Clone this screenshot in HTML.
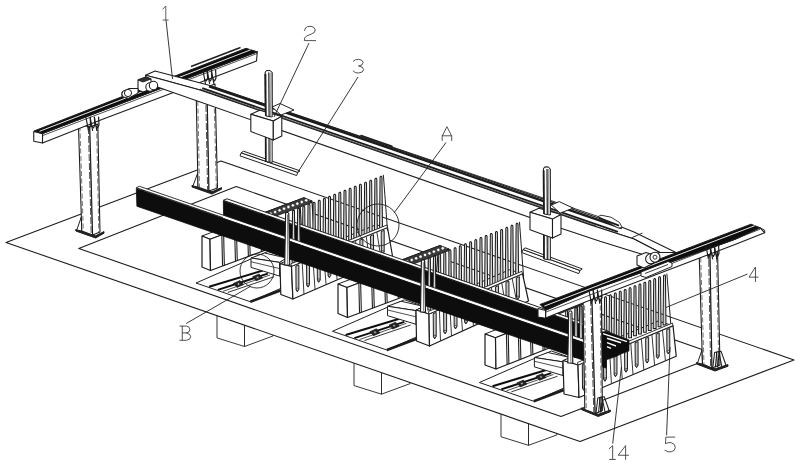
<!DOCTYPE html>
<html><head><meta charset="utf-8"><title>Figure</title>
<style>
html,body{margin:0;padding:0;background:#fff;font-family:"Liberation Sans",sans-serif;}
svg{display:block}
</style></head>
<body>
<svg width="800" height="465" viewBox="0 0 800 465">
<defs><filter id="soft" x="0" y="0" width="100%" height="100%" filterUnits="userSpaceOnUse"><feGaussianBlur stdDeviation="0.45"/></filter></defs>
<rect width="800" height="465" fill="#fff"/>
<g filter="url(#soft)">
<polygon points="217,313.93 217,337.93 244.5,346.5 244.5,323.5" fill="#fff" stroke="#1c1c1c" stroke-width="0.88" stroke-linejoin="round"/>
<polygon points="244.5,323.5 244.5,346.5 273,336 273,333.42" fill="#fff" stroke="#1c1c1c" stroke-width="0.88" stroke-linejoin="round"/>
<polygon points="354,361.6 354,385.6 381.5,394.17 381.5,371.17" fill="#fff" stroke="#1c1c1c" stroke-width="0.88" stroke-linejoin="round"/>
<polygon points="381.5,371.17 381.5,394.17 410,383.67 410,381.09" fill="#fff" stroke="#1c1c1c" stroke-width="0.88" stroke-linejoin="round"/>
<polygon points="501,412.76 501,436.76 528.5,445.33 528.5,422.33" fill="#fff" stroke="#1c1c1c" stroke-width="0.88" stroke-linejoin="round"/>
<polygon points="528.5,422.33 528.5,445.33 557,434.83 557,432.25" fill="#fff" stroke="#1c1c1c" stroke-width="0.88" stroke-linejoin="round"/>
<polygon points="6,242.5 221,161 794,360 580,441.5" fill="#fff" stroke="#1c1c1c" stroke-width="1.08" stroke-linejoin="round"/>
<polygon points="78.75,248.4 236.25,186.6 718.5,355.25 561,416.5" fill="#fff" stroke="#1c1c1c" stroke-width="1.08" stroke-linejoin="round"/>
<polygon points="196,283 268,251.5 322,270.2 250.35,301.75" fill="#fff" stroke="#1c1c1c" stroke-width="0.98" stroke-linejoin="round"/>
<line x1="227.85" y1="292.4" x2="274.1" y2="276.75" stroke="#1c1c1c" stroke-width="0.88" />
<line x1="223" y1="291.3" x2="270" y2="275" stroke="#1c1c1c" stroke-width="0.77" />
<line x1="250.35" y1="301.75" x2="280.35" y2="290.5" stroke="#1c1c1c" stroke-width="2.66" />
<line x1="209.1" y1="286.75" x2="262.85" y2="270.5" stroke="#111" stroke-width="2.03" />
<line x1="217.85" y1="289.9" x2="267.85" y2="273.6" stroke="#111" stroke-width="2.03" />
<polygon points="233.5,283.4 240,280.6 243.5,284.6 237,287.4" fill="#222" stroke="#1c1c1c" stroke-width="0.77" stroke-linejoin="round"/>
<circle cx="238.5" cy="284" r="1.2" fill="#bbb" stroke="#1c1c1c" stroke-width="0.56"/>
<polygon points="252.6,276.8 259.1,274 262.6,278 256.1,280.8" fill="#222" stroke="#1c1c1c" stroke-width="0.77" stroke-linejoin="round"/>
<circle cx="257.6" cy="277.4" r="1.2" fill="#bbb" stroke="#1c1c1c" stroke-width="0.56"/>
<polygon points="251,258 264.6,253 286.6,258 279.7,262.4" fill="#fff" stroke="#1c1c1c" stroke-width="0.98" stroke-linejoin="round"/>
<polygon points="251,258 251,267.4 279.7,276.1 279.7,262.4" fill="#fff" stroke="#1c1c1c" stroke-width="0.98" stroke-linejoin="round"/>
<line x1="251" y1="261.75" x2="279.7" y2="268.6" stroke="#1c1c1c" stroke-width="0.77" />
<polygon points="279.7,262.4 286.6,258 286.6,272 279.7,276.1" fill="#fff" stroke="#1c1c1c" stroke-width="0.98" stroke-linejoin="round"/>
<polygon points="332.5,331.25 404.5,299.75 458.5,318.45 386.85,350" fill="#fff" stroke="#1c1c1c" stroke-width="0.98" stroke-linejoin="round"/>
<line x1="364.35" y1="340.65" x2="410.6" y2="325" stroke="#1c1c1c" stroke-width="0.88" />
<line x1="359.5" y1="339.55" x2="406.5" y2="323.25" stroke="#1c1c1c" stroke-width="0.77" />
<line x1="386.85" y1="350" x2="416.85" y2="338.75" stroke="#1c1c1c" stroke-width="2.66" />
<line x1="345.6" y1="335" x2="399.35" y2="318.75" stroke="#111" stroke-width="2.03" />
<line x1="354.35" y1="338.15" x2="404.35" y2="321.85" stroke="#111" stroke-width="2.03" />
<polygon points="370,331.65 376.5,328.85 380,332.85 373.5,335.65" fill="#222" stroke="#1c1c1c" stroke-width="0.77" stroke-linejoin="round"/>
<circle cx="375" cy="332.25" r="1.2" fill="#bbb" stroke="#1c1c1c" stroke-width="0.56"/>
<polygon points="389.1,325.05 395.6,322.25 399.1,326.25 392.6,329.05" fill="#222" stroke="#1c1c1c" stroke-width="0.77" stroke-linejoin="round"/>
<circle cx="394.1" cy="325.65" r="1.2" fill="#bbb" stroke="#1c1c1c" stroke-width="0.56"/>
<polygon points="387.5,306.25 401.1,301.25 423.1,306.25 416.2,310.65" fill="#fff" stroke="#1c1c1c" stroke-width="0.98" stroke-linejoin="round"/>
<polygon points="387.5,306.25 387.5,315.65 416.2,324.35 416.2,310.65" fill="#fff" stroke="#1c1c1c" stroke-width="0.98" stroke-linejoin="round"/>
<line x1="387.5" y1="310" x2="416.2" y2="316.85" stroke="#1c1c1c" stroke-width="0.77" />
<polygon points="416.2,310.65 423.1,306.25 423.1,320.25 416.2,324.35" fill="#fff" stroke="#1c1c1c" stroke-width="0.98" stroke-linejoin="round"/>
<polygon points="479.4,382.5 551.4,351 605.4,369.7 533.75,401.25" fill="#fff" stroke="#1c1c1c" stroke-width="0.98" stroke-linejoin="round"/>
<line x1="511.25" y1="391.9" x2="557.5" y2="376.25" stroke="#1c1c1c" stroke-width="0.88" />
<line x1="506.4" y1="390.8" x2="553.4" y2="374.5" stroke="#1c1c1c" stroke-width="0.77" />
<line x1="533.75" y1="401.25" x2="563.75" y2="390" stroke="#1c1c1c" stroke-width="2.66" />
<line x1="492.5" y1="386.25" x2="546.25" y2="370" stroke="#111" stroke-width="2.03" />
<line x1="501.25" y1="389.4" x2="551.25" y2="373.1" stroke="#111" stroke-width="2.03" />
<polygon points="516.9,382.9 523.4,380.1 526.9,384.1 520.4,386.9" fill="#222" stroke="#1c1c1c" stroke-width="0.77" stroke-linejoin="round"/>
<circle cx="521.9" cy="383.5" r="1.2" fill="#bbb" stroke="#1c1c1c" stroke-width="0.56"/>
<polygon points="536,376.3 542.5,373.5 546,377.5 539.5,380.3" fill="#222" stroke="#1c1c1c" stroke-width="0.77" stroke-linejoin="round"/>
<circle cx="541" cy="376.9" r="1.2" fill="#bbb" stroke="#1c1c1c" stroke-width="0.56"/>
<polygon points="534.4,357.5 548,352.5 570,357.5 563.1,361.9" fill="#fff" stroke="#1c1c1c" stroke-width="0.98" stroke-linejoin="round"/>
<polygon points="534.4,357.5 534.4,366.9 563.1,375.6 563.1,361.9" fill="#fff" stroke="#1c1c1c" stroke-width="0.98" stroke-linejoin="round"/>
<line x1="534.4" y1="361.25" x2="563.1" y2="368.1" stroke="#1c1c1c" stroke-width="0.77" />
<polygon points="563.1,361.9 570,357.5 570,371.5 563.1,375.6" fill="#fff" stroke="#1c1c1c" stroke-width="0.98" stroke-linejoin="round"/>
<polygon points="192,187 212,194 221.5,189.2 221.5,187.6 212,191.8 192,185.4" fill="#222" stroke="#1c1c1c" stroke-width="0.98" stroke-linejoin="round"/>
<polygon points="193,186 197.7,173 198,187" fill="#fff" stroke="#1c1c1c" stroke-width="0.98" stroke-linejoin="round"/>
<polygon points="196,84 198,187 209,191 207,87" fill="#fff" stroke="#1c1c1c" stroke-width="1.08" stroke-linejoin="round"/>
<polygon points="207,87 209,191 217.5,188 215,84" fill="#fff" stroke="#1c1c1c" stroke-width="1.08" stroke-linejoin="round"/>
<line x1="197.5" y1="86" x2="199.5" y2="187" stroke="#444" stroke-width="0.72" stroke-dasharray="5 2.5"/>
<line x1="205.6" y1="87" x2="207.6" y2="190" stroke="#333" stroke-width="0.88" stroke-dasharray="7 2"/>
<line x1="213.8" y1="86" x2="216.3" y2="188" stroke="#444" stroke-width="0.72" stroke-dasharray="5 2.5"/>
<polygon points="696.5,364 715,371 728,366.2 728,364.6 715,368.8 696.5,362.4" fill="#222" stroke="#1c1c1c" stroke-width="0.98" stroke-linejoin="round"/>
<polygon points="697.5,363 701.98,350 702.5,364" fill="#fff" stroke="#1c1c1c" stroke-width="0.98" stroke-linejoin="round"/>
<polygon points="699,248 702.5,364 712,368 710,251" fill="#fff" stroke="#1c1c1c" stroke-width="1.08" stroke-linejoin="round"/>
<polygon points="710,251 712,368 720,365 717.5,248" fill="#fff" stroke="#1c1c1c" stroke-width="1.08" stroke-linejoin="round"/>
<line x1="700.5" y1="250" x2="704" y2="364" stroke="#444" stroke-width="0.72" stroke-dasharray="5 2.5"/>
<line x1="708.6" y1="251" x2="710.6" y2="367" stroke="#333" stroke-width="0.88" stroke-dasharray="7 2"/>
<line x1="716.3" y1="250" x2="718.8" y2="365" stroke="#444" stroke-width="0.72" stroke-dasharray="5 2.5"/>
<polyline points="712.8,367.6 714.6,352.5 716.6,352 717.5,366.8" fill="none" stroke="#1c1c1c" stroke-width="1.03" stroke-linejoin="round" stroke-linecap="round"/>
<polyline points="715.4,366.9 716.8,352.1 718.8,351.6 721.7,365.9" fill="none" stroke="#1c1c1c" stroke-width="1.03" stroke-linejoin="round" stroke-linecap="round"/>
<polyline points="718,366.2 719,351.7 721,351.2 725.9,365" fill="none" stroke="#1c1c1c" stroke-width="1.03" stroke-linejoin="round" stroke-linecap="round"/>
<polygon points="241.2,152.8 297.8,172.4 296.6,175.5 240,155.9" fill="#fff" stroke="#1c1c1c" stroke-width="0.98" stroke-linejoin="round"/>
<polygon points="241.2,152.8 297.8,172.4 300,170.8 243.4,151.2" fill="#fff" stroke="#1c1c1c" stroke-width="0.98" stroke-linejoin="round"/>
<polygon points="523,249.5 580,270.5 578.8,273.6 521.8,252.6" fill="#fff" stroke="#1c1c1c" stroke-width="0.98" stroke-linejoin="round"/>
<polygon points="523,249.5 580,270.5 582.2,268.9 525.2,247.9" fill="#fff" stroke="#1c1c1c" stroke-width="0.98" stroke-linejoin="round"/>
<polygon points="202,236 304,197.7 312,201 210,239.3" fill="#fff" stroke="#1c1c1c" stroke-width="0.98" stroke-linejoin="round"/>
<polygon points="202,236 202,267 210.5,270.5 210,239.3" fill="#fff" stroke="#1c1c1c" stroke-width="1.19" stroke-linejoin="round"/>
<polygon points="210,239.3 210.5,270.5 314,232 312,201" fill="#fff" stroke="#1c1c1c" stroke-width="1.19" stroke-linejoin="round"/>
<line x1="221.85" y1="234.81" x2="222.54" y2="265.99" stroke="#1c1c1c" stroke-width="1.08" />
<line x1="223.65" y1="234.21" x2="224.34" y2="265.39" stroke="#1c1c1c" stroke-width="1.08" />
<line x1="234.6" y1="230.03" x2="235.47" y2="261.18" stroke="#1c1c1c" stroke-width="1.08" />
<line x1="236.4" y1="229.43" x2="237.28" y2="260.57" stroke="#1c1c1c" stroke-width="1.08" />
<line x1="247.35" y1="225.24" x2="248.41" y2="256.36" stroke="#1c1c1c" stroke-width="1.08" />
<line x1="249.15" y1="224.64" x2="250.21" y2="255.76" stroke="#1c1c1c" stroke-width="1.08" />
<line x1="260.1" y1="220.45" x2="261.35" y2="251.55" stroke="#1c1c1c" stroke-width="1.08" />
<line x1="261.9" y1="219.85" x2="263.15" y2="250.95" stroke="#1c1c1c" stroke-width="1.08" />
<line x1="272.85" y1="215.66" x2="274.29" y2="246.74" stroke="#1c1c1c" stroke-width="1.08" />
<line x1="274.65" y1="215.06" x2="276.09" y2="246.14" stroke="#1c1c1c" stroke-width="1.08" />
<line x1="285.6" y1="210.88" x2="287.23" y2="241.93" stroke="#1c1c1c" stroke-width="1.08" />
<line x1="287.4" y1="210.27" x2="289.02" y2="241.32" stroke="#1c1c1c" stroke-width="1.08" />
<line x1="298.35" y1="206.09" x2="300.16" y2="237.11" stroke="#1c1c1c" stroke-width="1.08" />
<line x1="300.15" y1="205.49" x2="301.96" y2="236.51" stroke="#1c1c1c" stroke-width="1.08" />
<polygon points="253,216.85 304,197.7 312,202.5 265.08,220.12" fill="#3a3a3a" stroke="#1c1c1c" stroke-width="0.88" stroke-linejoin="round"/>
<circle cx="261.86" cy="216.99" r="1.65" fill="#fff" stroke="#222" stroke-width="0.56"/>
<circle cx="266.29" cy="215.33" r="1.65" fill="#fff" stroke="#222" stroke-width="0.56"/>
<circle cx="270.72" cy="213.66" r="1.65" fill="#fff" stroke="#222" stroke-width="0.56"/>
<circle cx="275.16" cy="212" r="1.65" fill="#fff" stroke="#222" stroke-width="0.56"/>
<circle cx="279.59" cy="210.33" r="1.65" fill="#fff" stroke="#222" stroke-width="0.56"/>
<circle cx="284.02" cy="208.67" r="1.65" fill="#fff" stroke="#222" stroke-width="0.56"/>
<circle cx="288.45" cy="207" r="1.65" fill="#fff" stroke="#222" stroke-width="0.56"/>
<circle cx="292.89" cy="205.34" r="1.65" fill="#fff" stroke="#222" stroke-width="0.56"/>
<circle cx="297.32" cy="203.68" r="1.65" fill="#fff" stroke="#222" stroke-width="0.56"/>
<circle cx="301.75" cy="202.01" r="1.65" fill="#fff" stroke="#222" stroke-width="0.56"/>
<circle cx="306.18" cy="200.35" r="1.65" fill="#fff" stroke="#222" stroke-width="0.56"/>
<polygon points="338,284 440,245.5 449,249 347,287.5" fill="#fff" stroke="#1c1c1c" stroke-width="0.98" stroke-linejoin="round"/>
<polygon points="338,284 338,313.5 347.5,317.5 347,287.5" fill="#fff" stroke="#1c1c1c" stroke-width="1.19" stroke-linejoin="round"/>
<polygon points="347,287.5 347.5,317.5 451,279 449,249" fill="#fff" stroke="#1c1c1c" stroke-width="1.19" stroke-linejoin="round"/>
<line x1="358.85" y1="282.99" x2="359.54" y2="312.99" stroke="#1c1c1c" stroke-width="1.08" />
<line x1="360.65" y1="282.39" x2="361.34" y2="312.39" stroke="#1c1c1c" stroke-width="1.08" />
<line x1="371.6" y1="278.18" x2="372.48" y2="308.18" stroke="#1c1c1c" stroke-width="1.08" />
<line x1="373.4" y1="277.57" x2="374.27" y2="307.57" stroke="#1c1c1c" stroke-width="1.08" />
<line x1="384.35" y1="273.36" x2="385.41" y2="303.36" stroke="#1c1c1c" stroke-width="1.08" />
<line x1="386.15" y1="272.76" x2="387.21" y2="302.76" stroke="#1c1c1c" stroke-width="1.08" />
<line x1="397.1" y1="268.55" x2="398.35" y2="298.55" stroke="#1c1c1c" stroke-width="1.08" />
<line x1="398.9" y1="267.95" x2="400.15" y2="297.95" stroke="#1c1c1c" stroke-width="1.08" />
<line x1="409.85" y1="263.74" x2="411.29" y2="293.74" stroke="#1c1c1c" stroke-width="1.08" />
<line x1="411.65" y1="263.14" x2="413.09" y2="293.14" stroke="#1c1c1c" stroke-width="1.08" />
<line x1="422.6" y1="258.93" x2="424.23" y2="288.93" stroke="#1c1c1c" stroke-width="1.08" />
<line x1="424.4" y1="258.32" x2="426.02" y2="288.32" stroke="#1c1c1c" stroke-width="1.08" />
<line x1="435.35" y1="254.11" x2="437.16" y2="284.11" stroke="#1c1c1c" stroke-width="1.08" />
<line x1="437.15" y1="253.51" x2="438.96" y2="283.51" stroke="#1c1c1c" stroke-width="1.08" />
<polygon points="389,264.75 440,245.5 449,250.5 402.08,268.21" fill="#3a3a3a" stroke="#1c1c1c" stroke-width="0.88" stroke-linejoin="round"/>
<circle cx="398.41" cy="264.99" r="1.65" fill="#fff" stroke="#222" stroke-width="0.56"/>
<circle cx="402.84" cy="263.32" r="1.65" fill="#fff" stroke="#222" stroke-width="0.56"/>
<circle cx="407.27" cy="261.65" r="1.65" fill="#fff" stroke="#222" stroke-width="0.56"/>
<circle cx="411.71" cy="259.97" r="1.65" fill="#fff" stroke="#222" stroke-width="0.56"/>
<circle cx="416.14" cy="258.3" r="1.65" fill="#fff" stroke="#222" stroke-width="0.56"/>
<circle cx="420.57" cy="256.63" r="1.65" fill="#fff" stroke="#222" stroke-width="0.56"/>
<circle cx="425" cy="254.95" r="1.65" fill="#fff" stroke="#222" stroke-width="0.56"/>
<circle cx="429.44" cy="253.28" r="1.65" fill="#fff" stroke="#222" stroke-width="0.56"/>
<circle cx="433.87" cy="251.61" r="1.65" fill="#fff" stroke="#222" stroke-width="0.56"/>
<circle cx="438.3" cy="249.93" r="1.65" fill="#fff" stroke="#222" stroke-width="0.56"/>
<circle cx="442.73" cy="248.26" r="1.65" fill="#fff" stroke="#222" stroke-width="0.56"/>
<polygon points="485,334 579.5,296.2 590,300 495.5,337.8" fill="#fff" stroke="#1c1c1c" stroke-width="0.98" stroke-linejoin="round"/>
<polygon points="485,334 485,365 496,369 495.5,337.8" fill="#fff" stroke="#1c1c1c" stroke-width="1.19" stroke-linejoin="round"/>
<polygon points="495.5,337.8 496,369 592,331 590,300" fill="#fff" stroke="#1c1c1c" stroke-width="1.19" stroke-linejoin="round"/>
<line x1="506.41" y1="333.38" x2="507.1" y2="364.55" stroke="#1c1c1c" stroke-width="1.08" />
<line x1="508.21" y1="332.77" x2="508.9" y2="363.95" stroke="#1c1c1c" stroke-width="1.08" />
<line x1="518.23" y1="328.65" x2="519.1" y2="359.8" stroke="#1c1c1c" stroke-width="1.08" />
<line x1="520.02" y1="328.05" x2="520.9" y2="359.2" stroke="#1c1c1c" stroke-width="1.08" />
<line x1="530.04" y1="323.93" x2="531.1" y2="355.05" stroke="#1c1c1c" stroke-width="1.08" />
<line x1="531.84" y1="323.32" x2="532.9" y2="354.45" stroke="#1c1c1c" stroke-width="1.08" />
<line x1="541.85" y1="319.2" x2="543.1" y2="350.3" stroke="#1c1c1c" stroke-width="1.08" />
<line x1="543.65" y1="318.6" x2="544.9" y2="349.7" stroke="#1c1c1c" stroke-width="1.08" />
<line x1="553.66" y1="314.48" x2="555.1" y2="345.55" stroke="#1c1c1c" stroke-width="1.08" />
<line x1="555.46" y1="313.88" x2="556.9" y2="344.95" stroke="#1c1c1c" stroke-width="1.08" />
<line x1="565.48" y1="309.75" x2="567.1" y2="340.8" stroke="#1c1c1c" stroke-width="1.08" />
<line x1="567.27" y1="309.15" x2="568.9" y2="340.2" stroke="#1c1c1c" stroke-width="1.08" />
<line x1="577.29" y1="305.03" x2="579.1" y2="336.05" stroke="#1c1c1c" stroke-width="1.08" />
<line x1="579.09" y1="304.43" x2="580.9" y2="335.45" stroke="#1c1c1c" stroke-width="1.08" />
<polygon points="532.25,315.1 579.5,296.2 590,301.5 546.53,318.89" fill="#3a3a3a" stroke="#1c1c1c" stroke-width="0.88" stroke-linejoin="round"/>
<circle cx="542.16" cy="315.54" r="1.65" fill="#fff" stroke="#222" stroke-width="0.56"/>
<circle cx="546.26" cy="313.89" r="1.65" fill="#fff" stroke="#222" stroke-width="0.56"/>
<circle cx="550.37" cy="312.25" r="1.65" fill="#fff" stroke="#222" stroke-width="0.56"/>
<circle cx="554.48" cy="310.61" r="1.65" fill="#fff" stroke="#222" stroke-width="0.56"/>
<circle cx="558.58" cy="308.97" r="1.65" fill="#fff" stroke="#222" stroke-width="0.56"/>
<circle cx="562.69" cy="307.32" r="1.65" fill="#fff" stroke="#222" stroke-width="0.56"/>
<circle cx="566.8" cy="305.68" r="1.65" fill="#fff" stroke="#222" stroke-width="0.56"/>
<circle cx="570.9" cy="304.04" r="1.65" fill="#fff" stroke="#222" stroke-width="0.56"/>
<circle cx="575.01" cy="302.4" r="1.65" fill="#fff" stroke="#222" stroke-width="0.56"/>
<circle cx="579.12" cy="300.75" r="1.65" fill="#fff" stroke="#222" stroke-width="0.56"/>
<circle cx="583.22" cy="299.11" r="1.65" fill="#fff" stroke="#222" stroke-width="0.56"/>
<polygon points="280,263.6 376,224.8 387.5,227.5 291.5,266.3" fill="#fff" stroke="#1c1c1c" stroke-width="0.98" stroke-linejoin="round"/>
<polygon points="280,263.6 280.8,294.5 292.9,299 291.5,266.3" fill="#fff" stroke="#1c1c1c" stroke-width="1.19" stroke-linejoin="round"/>
<polygon points="291.5,266.3 292.9,299 392.5,256 387.5,227.5" fill="#fff" stroke="#1c1c1c" stroke-width="1.19" stroke-linejoin="round"/>
<polygon points="295.87,266.03 296.07,289.88 297.37,291.83 298.87,289.28 298.87,264.83" fill="#c4c4c4" stroke="#1c1c1c" stroke-width="0.98" stroke-linejoin="round"/>
<circle cx="297.47" cy="289.28" r="1.1" fill="#eee" stroke="#1c1c1c" stroke-width="0.77"/>
<line x1="302.17" y1="261.99" x2="303.97" y2="294.22" stroke="#333" stroke-width="0.98" />
<polygon points="306.53,261.72 306.73,285.2 308.03,287.12 309.53,284.6 309.53,260.52" fill="#c4c4c4" stroke="#1c1c1c" stroke-width="0.98" stroke-linejoin="round"/>
<circle cx="308.13" cy="284.6" r="1.1" fill="#eee" stroke="#1c1c1c" stroke-width="0.77"/>
<line x1="312.83" y1="257.68" x2="315.03" y2="289.44" stroke="#333" stroke-width="0.98" />
<polygon points="317.2,257.41 317.4,280.51 318.7,282.41 320.2,279.91 320.2,256.21" fill="#c4c4c4" stroke="#1c1c1c" stroke-width="0.98" stroke-linejoin="round"/>
<circle cx="318.8" cy="279.91" r="1.1" fill="#eee" stroke="#1c1c1c" stroke-width="0.77"/>
<line x1="323.5" y1="253.37" x2="326.1" y2="284.67" stroke="#333" stroke-width="0.98" />
<polygon points="327.87,253.1 328.07,275.83 329.37,277.69 330.87,275.23 330.87,251.9" fill="#c4c4c4" stroke="#1c1c1c" stroke-width="0.98" stroke-linejoin="round"/>
<circle cx="329.47" cy="275.23" r="1.1" fill="#eee" stroke="#1c1c1c" stroke-width="0.77"/>
<line x1="334.17" y1="249.06" x2="337.17" y2="279.89" stroke="#333" stroke-width="0.98" />
<polygon points="338.53,248.78 338.73,271.15 340.03,272.98 341.53,270.55 341.53,247.58" fill="#c4c4c4" stroke="#1c1c1c" stroke-width="0.98" stroke-linejoin="round"/>
<circle cx="340.13" cy="270.55" r="1.1" fill="#eee" stroke="#1c1c1c" stroke-width="0.77"/>
<line x1="344.83" y1="244.74" x2="348.23" y2="275.11" stroke="#333" stroke-width="0.98" />
<polygon points="349.2,244.47 349.4,266.46 350.7,268.27 352.2,265.86 352.2,243.27" fill="#c4c4c4" stroke="#1c1c1c" stroke-width="0.98" stroke-linejoin="round"/>
<circle cx="350.8" cy="265.86" r="1.1" fill="#eee" stroke="#1c1c1c" stroke-width="0.77"/>
<line x1="355.5" y1="240.43" x2="359.3" y2="270.33" stroke="#333" stroke-width="0.98" />
<polygon points="359.87,240.16 360.07,261.78 361.37,263.56 362.87,261.18 362.87,238.96" fill="#c4c4c4" stroke="#1c1c1c" stroke-width="0.98" stroke-linejoin="round"/>
<circle cx="361.47" cy="261.18" r="1.1" fill="#eee" stroke="#1c1c1c" stroke-width="0.77"/>
<line x1="366.17" y1="236.12" x2="370.37" y2="265.56" stroke="#333" stroke-width="0.98" />
<polygon points="370.53,235.85 370.73,257.09 372.03,258.84 373.53,256.49 373.53,234.65" fill="#c4c4c4" stroke="#1c1c1c" stroke-width="0.98" stroke-linejoin="round"/>
<circle cx="372.13" cy="256.49" r="1.1" fill="#eee" stroke="#1c1c1c" stroke-width="0.77"/>
<line x1="376.83" y1="231.81" x2="381.43" y2="260.78" stroke="#333" stroke-width="0.98" />
<polygon points="381.2,231.54 381.4,252.41 382.7,254.13 384.2,251.81 384.2,230.34" fill="#c4c4c4" stroke="#1c1c1c" stroke-width="0.98" stroke-linejoin="round"/>
<circle cx="382.8" cy="251.81" r="1.1" fill="#eee" stroke="#1c1c1c" stroke-width="0.77"/>
<polygon points="416,310 509.5,269.75 522.5,273.75 429,314" fill="#fff" stroke="#1c1c1c" stroke-width="0.98" stroke-linejoin="round"/>
<polygon points="416,310 416.5,341 429.5,346 429,314" fill="#fff" stroke="#1c1c1c" stroke-width="1.19" stroke-linejoin="round"/>
<polygon points="429,314 429.5,346 528.5,301 522.5,273.75" fill="#fff" stroke="#1c1c1c" stroke-width="1.19" stroke-linejoin="round"/>
<polygon points="433.21,313.64 433.41,336.91 434.71,338.81 436.21,336.31 436.21,312.44" fill="#c4c4c4" stroke="#1c1c1c" stroke-width="0.98" stroke-linejoin="round"/>
<circle cx="434.81" cy="336.31" r="1.1" fill="#eee" stroke="#1c1c1c" stroke-width="0.77"/>
<line x1="439.39" y1="309.53" x2="440.5" y2="341" stroke="#333" stroke-width="0.98" />
<polygon points="443.6,309.17 443.8,332.01 445.1,333.88 446.6,331.41 446.6,307.97" fill="#c4c4c4" stroke="#1c1c1c" stroke-width="0.98" stroke-linejoin="round"/>
<circle cx="445.2" cy="331.41" r="1.1" fill="#eee" stroke="#1c1c1c" stroke-width="0.77"/>
<line x1="449.78" y1="305.06" x2="451.5" y2="336" stroke="#333" stroke-width="0.98" />
<polygon points="453.99,304.7 454.19,327.12 455.49,328.96 456.99,326.52 456.99,303.5" fill="#c4c4c4" stroke="#1c1c1c" stroke-width="0.98" stroke-linejoin="round"/>
<circle cx="455.59" cy="326.52" r="1.1" fill="#eee" stroke="#1c1c1c" stroke-width="0.77"/>
<line x1="460.17" y1="300.58" x2="462.5" y2="331" stroke="#333" stroke-width="0.98" />
<polygon points="464.38,300.22 464.58,322.22 465.88,324.03 467.38,321.62 467.38,299.02" fill="#c4c4c4" stroke="#1c1c1c" stroke-width="0.98" stroke-linejoin="round"/>
<circle cx="465.98" cy="321.62" r="1.1" fill="#eee" stroke="#1c1c1c" stroke-width="0.77"/>
<line x1="470.56" y1="296.11" x2="473.5" y2="326" stroke="#333" stroke-width="0.98" />
<polygon points="474.77,295.75 474.97,317.33 476.27,319.11 477.77,316.73 477.77,294.55" fill="#c4c4c4" stroke="#1c1c1c" stroke-width="0.98" stroke-linejoin="round"/>
<circle cx="476.37" cy="316.73" r="1.1" fill="#eee" stroke="#1c1c1c" stroke-width="0.77"/>
<line x1="480.94" y1="291.64" x2="484.5" y2="321" stroke="#333" stroke-width="0.98" />
<polygon points="485.16,291.28 485.36,312.44 486.66,314.18 488.16,311.84 488.16,290.08" fill="#c4c4c4" stroke="#1c1c1c" stroke-width="0.98" stroke-linejoin="round"/>
<circle cx="486.76" cy="311.84" r="1.1" fill="#eee" stroke="#1c1c1c" stroke-width="0.77"/>
<line x1="491.33" y1="287.17" x2="495.5" y2="316" stroke="#333" stroke-width="0.98" />
<polygon points="495.55,286.81 495.75,307.54 497.05,309.25 498.55,306.94 498.55,285.61" fill="#c4c4c4" stroke="#1c1c1c" stroke-width="0.98" stroke-linejoin="round"/>
<circle cx="497.15" cy="306.94" r="1.1" fill="#eee" stroke="#1c1c1c" stroke-width="0.77"/>
<line x1="501.72" y1="282.69" x2="506.5" y2="311" stroke="#333" stroke-width="0.98" />
<polygon points="505.94,282.33 506.14,302.65 507.44,304.33 508.94,302.05 508.94,281.13" fill="#c4c4c4" stroke="#1c1c1c" stroke-width="0.98" stroke-linejoin="round"/>
<circle cx="507.54" cy="302.05" r="1.1" fill="#eee" stroke="#1c1c1c" stroke-width="0.77"/>
<line x1="512.11" y1="278.22" x2="517.5" y2="306" stroke="#333" stroke-width="0.98" />
<polygon points="516.33,277.86 516.53,297.75 517.83,299.4 519.33,297.15 519.33,276.66" fill="#c4c4c4" stroke="#1c1c1c" stroke-width="0.98" stroke-linejoin="round"/>
<circle cx="517.93" cy="297.15" r="1.1" fill="#eee" stroke="#1c1c1c" stroke-width="0.77"/>
<polygon points="563,360.5 658,321.1 673,325.6 578,365" fill="#fff" stroke="#1c1c1c" stroke-width="0.98" stroke-linejoin="round"/>
<polygon points="563,360.5 564,394 579,397.5 578,365" fill="#fff" stroke="#1c1c1c" stroke-width="1.19" stroke-linejoin="round"/>
<polygon points="578,365 579,397.5 676.25,356.25 673,325.6" fill="#fff" stroke="#1c1c1c" stroke-width="1.19" stroke-linejoin="round"/>
<polygon points="582.31,364.69 582.51,388.5 583.81,390.44 585.31,387.9 585.31,363.49" fill="#c4c4c4" stroke="#1c1c1c" stroke-width="0.98" stroke-linejoin="round"/>
<circle cx="583.91" cy="387.9" r="1.1" fill="#eee" stroke="#1c1c1c" stroke-width="0.77"/>
<line x1="588.56" y1="360.62" x2="589.81" y2="392.92" stroke="#333" stroke-width="0.98" />
<polygon points="592.86,360.31 593.06,383.96 594.36,385.89 595.86,383.36 595.86,359.11" fill="#c4c4c4" stroke="#1c1c1c" stroke-width="0.98" stroke-linejoin="round"/>
<circle cx="594.46" cy="383.36" r="1.1" fill="#eee" stroke="#1c1c1c" stroke-width="0.77"/>
<line x1="599.11" y1="356.24" x2="600.61" y2="388.33" stroke="#333" stroke-width="0.98" />
<polygon points="603.42,355.94 603.62,379.42 604.92,381.34 606.42,378.82 606.42,354.74" fill="#c4c4c4" stroke="#1c1c1c" stroke-width="0.98" stroke-linejoin="round"/>
<circle cx="605.02" cy="378.82" r="1.1" fill="#eee" stroke="#1c1c1c" stroke-width="0.77"/>
<line x1="609.67" y1="351.87" x2="611.42" y2="383.75" stroke="#333" stroke-width="0.98" />
<polygon points="613.97,351.56 614.17,374.88 615.47,376.78 616.97,374.28 616.97,350.36" fill="#c4c4c4" stroke="#1c1c1c" stroke-width="0.98" stroke-linejoin="round"/>
<circle cx="615.57" cy="374.28" r="1.1" fill="#eee" stroke="#1c1c1c" stroke-width="0.77"/>
<line x1="620.22" y1="347.49" x2="622.22" y2="379.17" stroke="#333" stroke-width="0.98" />
<polygon points="624.53,347.18 624.73,370.33 626.03,372.23 627.53,369.73 627.53,345.98" fill="#c4c4c4" stroke="#1c1c1c" stroke-width="0.98" stroke-linejoin="round"/>
<circle cx="626.13" cy="369.73" r="1.1" fill="#eee" stroke="#1c1c1c" stroke-width="0.77"/>
<line x1="630.78" y1="343.11" x2="633.03" y2="374.58" stroke="#333" stroke-width="0.98" />
<polygon points="635.08,342.8 635.28,365.79 636.58,367.67 638.08,365.19 638.08,341.6" fill="#c4c4c4" stroke="#1c1c1c" stroke-width="0.98" stroke-linejoin="round"/>
<circle cx="636.68" cy="365.19" r="1.1" fill="#eee" stroke="#1c1c1c" stroke-width="0.77"/>
<line x1="641.33" y1="338.73" x2="643.83" y2="370" stroke="#333" stroke-width="0.98" />
<polygon points="645.64,338.43 645.84,361.25 647.14,363.12 648.64,360.65 648.64,337.23" fill="#c4c4c4" stroke="#1c1c1c" stroke-width="0.98" stroke-linejoin="round"/>
<circle cx="647.24" cy="360.65" r="1.1" fill="#eee" stroke="#1c1c1c" stroke-width="0.77"/>
<line x1="651.89" y1="334.36" x2="654.64" y2="365.42" stroke="#333" stroke-width="0.98" />
<polygon points="656.19,334.05 656.39,356.71 657.69,358.56 659.19,356.11 659.19,332.85" fill="#c4c4c4" stroke="#1c1c1c" stroke-width="0.98" stroke-linejoin="round"/>
<circle cx="657.79" cy="356.11" r="1.1" fill="#eee" stroke="#1c1c1c" stroke-width="0.77"/>
<line x1="662.44" y1="329.98" x2="665.44" y2="360.83" stroke="#333" stroke-width="0.98" />
<polygon points="666.75,329.67 666.95,352.16 668.25,354.01 669.75,351.56 669.75,328.47" fill="#c4c4c4" stroke="#1c1c1c" stroke-width="0.98" stroke-linejoin="round"/>
<circle cx="668.35" cy="351.56" r="1.1" fill="#eee" stroke="#1c1c1c" stroke-width="0.77"/>
<polygon points="292.55,211.3 293.02,210.3 293.98,210.3 294.45,211.3 294.95,262.3 292.05,262.3" fill="#d4d4d4" stroke="#1c1c1c" stroke-width="1.03" stroke-linejoin="round"/>
<polygon points="297.7,209.3 298.17,208.3 299.12,208.3 299.6,209.3 300.1,260.3 297.2,260.3" fill="#d4d4d4" stroke="#1c1c1c" stroke-width="1.03" stroke-linejoin="round"/>
<polygon points="302.84,207.3 303.32,206.3 304.27,206.3 304.74,207.3 305.24,258.3 302.34,258.3" fill="#d4d4d4" stroke="#1c1c1c" stroke-width="1.03" stroke-linejoin="round"/>
<polygon points="307.99,205.3 308.47,204.3 309.42,204.3 309.89,205.3 310.39,256.3 307.49,256.3" fill="#d4d4d4" stroke="#1c1c1c" stroke-width="1.03" stroke-linejoin="round"/>
<polygon points="313.14,203.3 313.61,202.3 314.56,202.3 315.04,203.3 315.54,254.3 312.64,254.3" fill="#d4d4d4" stroke="#1c1c1c" stroke-width="1.03" stroke-linejoin="round"/>
<polygon points="318.29,201.3 318.76,200.3 319.71,200.3 320.19,201.3 320.69,252.3 317.79,252.3" fill="#d4d4d4" stroke="#1c1c1c" stroke-width="1.03" stroke-linejoin="round"/>
<polygon points="323.43,199.3 323.91,198.3 324.86,198.3 325.33,199.3 325.83,250.3 322.93,250.3" fill="#d4d4d4" stroke="#1c1c1c" stroke-width="1.03" stroke-linejoin="round"/>
<polygon points="328.58,197.3 329.05,196.3 330,196.3 330.48,197.3 330.98,248.3 328.08,248.3" fill="#d4d4d4" stroke="#1c1c1c" stroke-width="1.03" stroke-linejoin="round"/>
<polygon points="333.73,195.3 334.2,194.3 335.15,194.3 335.63,195.3 336.13,246.3 333.23,246.3" fill="#d4d4d4" stroke="#1c1c1c" stroke-width="1.03" stroke-linejoin="round"/>
<polygon points="338.87,193.3 339.35,192.3 340.3,192.3 340.77,193.3 341.27,244.3 338.37,244.3" fill="#d4d4d4" stroke="#1c1c1c" stroke-width="1.03" stroke-linejoin="round"/>
<polygon points="344.02,191.3 344.5,190.3 345.45,190.3 345.92,191.3 346.42,242.3 343.52,242.3" fill="#d4d4d4" stroke="#1c1c1c" stroke-width="1.03" stroke-linejoin="round"/>
<polygon points="349.17,189.3 349.64,188.3 350.59,188.3 351.07,189.3 351.57,240.3 348.67,240.3" fill="#d4d4d4" stroke="#1c1c1c" stroke-width="1.03" stroke-linejoin="round"/>
<polygon points="354.31,187.3 354.79,186.3 355.74,186.3 356.21,187.3 356.71,238.3 353.81,238.3" fill="#d4d4d4" stroke="#1c1c1c" stroke-width="1.03" stroke-linejoin="round"/>
<polygon points="359.46,185.3 359.94,184.3 360.89,184.3 361.36,185.3 361.86,236.3 358.96,236.3" fill="#d4d4d4" stroke="#1c1c1c" stroke-width="1.03" stroke-linejoin="round"/>
<polygon points="364.61,183.3 365.08,182.3 366.03,182.3 366.51,183.3 367.01,234.3 364.11,234.3" fill="#d4d4d4" stroke="#1c1c1c" stroke-width="1.03" stroke-linejoin="round"/>
<polygon points="369.76,181.3 370.23,180.3 371.18,180.3 371.66,181.3 372.16,232.3 369.26,232.3" fill="#d4d4d4" stroke="#1c1c1c" stroke-width="1.03" stroke-linejoin="round"/>
<polygon points="374.9,179.3 375.38,178.3 376.33,178.3 376.8,179.3 377.3,230.3 374.4,230.3" fill="#d4d4d4" stroke="#1c1c1c" stroke-width="1.03" stroke-linejoin="round"/>
<polygon points="380.05,177.3 380.52,176.3 381.48,176.3 381.95,177.3 382.45,228.3 379.55,228.3" fill="#d4d4d4" stroke="#1c1c1c" stroke-width="1.03" stroke-linejoin="round"/>
<polyline points="383.4,175.3 387.5,230.3" fill="none" stroke="#1c1c1c" stroke-width="0.98" stroke-linejoin="round" stroke-linecap="round"/>
<polygon points="428.35,259 428.82,258 429.78,258 430.25,259 430.75,310 427.85,310" fill="#d4d4d4" stroke="#1c1c1c" stroke-width="1.03" stroke-linejoin="round"/>
<polygon points="433.51,256.96 433.99,255.96 434.94,255.96 435.41,256.96 435.91,307.96 433.01,307.96" fill="#d4d4d4" stroke="#1c1c1c" stroke-width="1.03" stroke-linejoin="round"/>
<polygon points="438.68,254.92 439.15,253.92 440.1,253.92 440.58,254.92 441.08,305.92 438.18,305.92" fill="#d4d4d4" stroke="#1c1c1c" stroke-width="1.03" stroke-linejoin="round"/>
<polygon points="443.84,252.88 444.32,251.88 445.27,251.88 445.74,252.88 446.24,303.88 443.34,303.88" fill="#d4d4d4" stroke="#1c1c1c" stroke-width="1.03" stroke-linejoin="round"/>
<polygon points="449.01,250.84 449.48,249.84 450.43,249.84 450.91,250.84 451.41,301.84 448.51,301.84" fill="#d4d4d4" stroke="#1c1c1c" stroke-width="1.03" stroke-linejoin="round"/>
<polygon points="454.17,248.79 454.65,247.79 455.6,247.79 456.07,248.79 456.57,299.79 453.67,299.79" fill="#d4d4d4" stroke="#1c1c1c" stroke-width="1.03" stroke-linejoin="round"/>
<polygon points="459.34,246.75 459.81,245.75 460.76,245.75 461.24,246.75 461.74,297.75 458.84,297.75" fill="#d4d4d4" stroke="#1c1c1c" stroke-width="1.03" stroke-linejoin="round"/>
<polygon points="464.5,244.71 464.98,243.71 465.93,243.71 466.4,244.71 466.9,295.71 464,295.71" fill="#d4d4d4" stroke="#1c1c1c" stroke-width="1.03" stroke-linejoin="round"/>
<polygon points="469.67,242.67 470.14,241.67 471.09,241.67 471.57,242.67 472.07,293.67 469.17,293.67" fill="#d4d4d4" stroke="#1c1c1c" stroke-width="1.03" stroke-linejoin="round"/>
<polygon points="474.83,240.63 475.31,239.63 476.26,239.63 476.73,240.63 477.23,291.63 474.33,291.63" fill="#d4d4d4" stroke="#1c1c1c" stroke-width="1.03" stroke-linejoin="round"/>
<polygon points="480,238.59 480.47,237.59 481.42,237.59 481.9,238.59 482.4,289.59 479.5,289.59" fill="#d4d4d4" stroke="#1c1c1c" stroke-width="1.03" stroke-linejoin="round"/>
<polygon points="485.16,236.55 485.64,235.55 486.59,235.55 487.06,236.55 487.56,287.55 484.66,287.55" fill="#d4d4d4" stroke="#1c1c1c" stroke-width="1.03" stroke-linejoin="round"/>
<polygon points="490.33,234.51 490.8,233.51 491.75,233.51 492.23,234.51 492.73,285.51 489.83,285.51" fill="#d4d4d4" stroke="#1c1c1c" stroke-width="1.03" stroke-linejoin="round"/>
<polygon points="495.49,232.46 495.97,231.46 496.92,231.46 497.39,232.46 497.89,283.46 494.99,283.46" fill="#d4d4d4" stroke="#1c1c1c" stroke-width="1.03" stroke-linejoin="round"/>
<polygon points="500.66,230.42 501.13,229.42 502.08,229.42 502.56,230.42 503.06,281.42 500.16,281.42" fill="#d4d4d4" stroke="#1c1c1c" stroke-width="1.03" stroke-linejoin="round"/>
<polygon points="505.82,228.38 506.3,227.38 507.25,227.38 507.72,228.38 508.22,279.38 505.32,279.38" fill="#d4d4d4" stroke="#1c1c1c" stroke-width="1.03" stroke-linejoin="round"/>
<polygon points="510.99,226.34 511.46,225.34 512.41,225.34 512.89,226.34 513.39,277.34 510.49,277.34" fill="#d4d4d4" stroke="#1c1c1c" stroke-width="1.03" stroke-linejoin="round"/>
<polygon points="516.15,224.3 516.62,223.3 517.58,223.3 518.05,224.3 518.55,275.3 515.65,275.3" fill="#d4d4d4" stroke="#1c1c1c" stroke-width="1.03" stroke-linejoin="round"/>
<polyline points="519.5,222.3 523.6,277.3" fill="none" stroke="#1c1c1c" stroke-width="0.98" stroke-linejoin="round" stroke-linecap="round"/>
<polygon points="575.05,308.5 575.52,307.5 576.48,307.5 576.95,308.5 577.45,357.5 574.55,357.5" fill="#d4d4d4" stroke="#1c1c1c" stroke-width="1.03" stroke-linejoin="round"/>
<polygon points="579.97,306.69 580.44,305.69 581.39,305.69 581.87,306.69 582.37,355.69 579.47,355.69" fill="#d4d4d4" stroke="#1c1c1c" stroke-width="1.03" stroke-linejoin="round"/>
<polygon points="584.88,304.89 585.36,303.89 586.31,303.89 586.78,304.89 587.28,353.89 584.38,353.89" fill="#d4d4d4" stroke="#1c1c1c" stroke-width="1.03" stroke-linejoin="round"/>
<polygon points="589.8,303.08 590.27,302.08 591.23,302.08 591.7,303.08 592.2,352.08 589.3,352.08" fill="#d4d4d4" stroke="#1c1c1c" stroke-width="1.03" stroke-linejoin="round"/>
<polygon points="594.72,301.28 595.19,300.28 596.14,300.28 596.62,301.28 597.12,350.28 594.22,350.28" fill="#d4d4d4" stroke="#1c1c1c" stroke-width="1.03" stroke-linejoin="round"/>
<polygon points="599.63,299.47 600.11,298.47 601.06,298.47 601.53,299.47 602.03,348.47 599.13,348.47" fill="#d4d4d4" stroke="#1c1c1c" stroke-width="1.03" stroke-linejoin="round"/>
<polygon points="604.55,297.67 605.02,296.67 605.98,296.67 606.45,297.67 606.95,346.67 604.05,346.67" fill="#d4d4d4" stroke="#1c1c1c" stroke-width="1.03" stroke-linejoin="round"/>
<polygon points="609.47,295.86 609.94,294.86 610.89,294.86 611.37,295.86 611.87,344.86 608.97,344.86" fill="#d4d4d4" stroke="#1c1c1c" stroke-width="1.03" stroke-linejoin="round"/>
<polygon points="614.38,294.06 614.86,293.06 615.81,293.06 616.28,294.06 616.78,343.06 613.88,343.06" fill="#d4d4d4" stroke="#1c1c1c" stroke-width="1.03" stroke-linejoin="round"/>
<polygon points="619.3,292.25 619.77,291.25 620.73,291.25 621.2,292.25 621.7,341.25 618.8,341.25" fill="#d4d4d4" stroke="#1c1c1c" stroke-width="1.03" stroke-linejoin="round"/>
<polygon points="624.22,290.44 624.69,289.44 625.64,289.44 626.12,290.44 626.62,339.44 623.72,339.44" fill="#d4d4d4" stroke="#1c1c1c" stroke-width="1.03" stroke-linejoin="round"/>
<polygon points="629.13,288.64 629.61,287.64 630.56,287.64 631.03,288.64 631.53,337.64 628.63,337.64" fill="#d4d4d4" stroke="#1c1c1c" stroke-width="1.03" stroke-linejoin="round"/>
<polygon points="634.05,286.83 634.52,285.83 635.48,285.83 635.95,286.83 636.45,335.83 633.55,335.83" fill="#d4d4d4" stroke="#1c1c1c" stroke-width="1.03" stroke-linejoin="round"/>
<polygon points="638.97,285.03 639.44,284.03 640.39,284.03 640.87,285.03 641.37,334.03 638.47,334.03" fill="#d4d4d4" stroke="#1c1c1c" stroke-width="1.03" stroke-linejoin="round"/>
<polygon points="643.88,283.22 644.36,282.22 645.31,282.22 645.78,283.22 646.28,332.22 643.38,332.22" fill="#d4d4d4" stroke="#1c1c1c" stroke-width="1.03" stroke-linejoin="round"/>
<polygon points="648.8,281.42 649.27,280.42 650.23,280.42 650.7,281.42 651.2,330.42 648.3,330.42" fill="#d4d4d4" stroke="#1c1c1c" stroke-width="1.03" stroke-linejoin="round"/>
<polygon points="653.72,279.61 654.19,278.61 655.14,278.61 655.62,279.61 656.12,328.61 653.22,328.61" fill="#d4d4d4" stroke="#1c1c1c" stroke-width="1.03" stroke-linejoin="round"/>
<polygon points="658.63,277.81 659.11,276.81 660.06,276.81 660.53,277.81 661.03,326.81 658.13,326.81" fill="#d4d4d4" stroke="#1c1c1c" stroke-width="1.03" stroke-linejoin="round"/>
<polygon points="663.55,276 664.02,275 664.98,275 665.45,276 665.95,325 663.05,325" fill="#d4d4d4" stroke="#1c1c1c" stroke-width="1.03" stroke-linejoin="round"/>
<polyline points="666.9,274 671,327" fill="none" stroke="#1c1c1c" stroke-width="0.98" stroke-linejoin="round" stroke-linecap="round"/>
<polygon points="291.5,266.3 387.5,227.5 386.9,225 290.9,263.8" fill="#fff" stroke="#1c1c1c" stroke-width="0.88" stroke-linejoin="round"/>
<polygon points="429,314 522.5,273.75 521.9,271.25 428.4,311.5" fill="#fff" stroke="#1c1c1c" stroke-width="0.88" stroke-linejoin="round"/>
<polygon points="578,365 673,325.6 672.4,323.1 577.4,362.5" fill="#fff" stroke="#1c1c1c" stroke-width="0.88" stroke-linejoin="round"/>
<polygon points="223.3,200.3 227,198.8 609.7,331.64 606,333.14" fill="#fff" stroke="#1c1c1c" stroke-width="0.98" stroke-linejoin="round"/>
<polygon points="223.3,201 606,333.75 606,348.16 223.6,216.24" fill="#0a0a0a" stroke="#0a0a0a" stroke-width="0.77" stroke-linejoin="round"/>
<polygon points="292.55,211.3 293.02,210.3 293.98,210.3 294.45,211.3 294.95,246.3 292.05,246.3" fill="#d4d4d4" stroke="#1c1c1c" stroke-width="1.03" stroke-linejoin="round"/>
<polygon points="297.7,209.3 298.17,208.3 299.12,208.3 299.6,209.3 300.1,244.3 297.2,244.3" fill="#d4d4d4" stroke="#1c1c1c" stroke-width="1.03" stroke-linejoin="round"/>
<polygon points="428.35,259 428.82,258 429.78,258 430.25,259 430.75,294 427.85,294" fill="#d4d4d4" stroke="#1c1c1c" stroke-width="1.03" stroke-linejoin="round"/>
<polygon points="433.51,256.96 433.99,255.96 434.94,255.96 435.41,256.96 435.91,291.96 433.01,291.96" fill="#d4d4d4" stroke="#1c1c1c" stroke-width="1.03" stroke-linejoin="round"/>
<polygon points="575.05,308.5 575.52,307.5 576.48,307.5 576.95,308.5 577.45,341.5 574.55,341.5" fill="#d4d4d4" stroke="#1c1c1c" stroke-width="1.03" stroke-linejoin="round"/>
<polygon points="579.97,306.69 580.44,305.69 581.39,305.69 581.87,306.69 582.37,339.69 579.47,339.69" fill="#d4d4d4" stroke="#1c1c1c" stroke-width="1.03" stroke-linejoin="round"/>
<polygon points="136.25,187.7 139.4,186.3 609.2,348.06 606,349.66" fill="#fff" stroke="#1c1c1c" stroke-width="0.88" stroke-linejoin="round"/>
<polygon points="223,216.23 606,348.36 606,350.06 223,217.93" fill="#fff" stroke="none" stroke-width="0" stroke-linejoin="round"/>
<polygon points="136.25,188.4 606,350.26 606,368.09 136.9,206.25" fill="#0a0a0a" stroke="#0a0a0a" stroke-width="0.77" stroke-linejoin="round"/>
<polygon points="601,333 606,331 629,340 629,351 622,353.5 616,356.5 610,358.5 604,360.5 601,358" fill="#0a0a0a" stroke="#1c1c1c" stroke-width="0.77" stroke-linejoin="round"/>
<line x1="603" y1="333.6" x2="627" y2="341.6" stroke="#fff" stroke-width="1.51" />
<line x1="607" y1="338.2" x2="621" y2="342.8" stroke="#fff" stroke-width="1.51" />
<line x1="607" y1="342.6" x2="616" y2="346" stroke="#fff" stroke-width="1.51" />
<line x1="607" y1="346.6" x2="611" y2="348.4" stroke="#fff" stroke-width="1.51" />
<polygon points="285.6,213.5 286.4,212.5 288,212.5 288.8,213.5 289.7,265 284.7,265" fill="#fff" stroke="#1c1c1c" stroke-width="1.14" stroke-linejoin="round"/>
<line x1="287.5" y1="214.5" x2="287.8" y2="264" stroke="#555" stroke-width="0.77" />
<polygon points="421.4,261 422.2,260 423.8,260 424.6,261 425.5,312 420.5,312" fill="#fff" stroke="#1c1c1c" stroke-width="1.14" stroke-linejoin="round"/>
<line x1="423.3" y1="262" x2="423.6" y2="311" stroke="#555" stroke-width="0.77" />
<polygon points="568.7,312 569.5,311 571.1,311 571.9,312 572.8,363 567.8,363" fill="#fff" stroke="#1c1c1c" stroke-width="1.14" stroke-linejoin="round"/>
<line x1="570.6" y1="313" x2="570.9" y2="362" stroke="#555" stroke-width="0.77" />
<polygon points="75.8,231 95.6,238 104,233.2 104,231.6 95.6,235.8 75.8,229.4" fill="#222" stroke="#1c1c1c" stroke-width="0.98" stroke-linejoin="round"/>
<polygon points="76.8,230 81.29,217 81.8,231" fill="#fff" stroke="#1c1c1c" stroke-width="0.98" stroke-linejoin="round"/>
<polygon points="78.4,124 81.8,231 92.6,235 89.8,127" fill="#fff" stroke="#1c1c1c" stroke-width="1.08" stroke-linejoin="round"/>
<polygon points="89.8,127 92.6,235 100,232 97.8,124" fill="#fff" stroke="#1c1c1c" stroke-width="1.08" stroke-linejoin="round"/>
<line x1="79.9" y1="126" x2="83.3" y2="231" stroke="#444" stroke-width="0.72" stroke-dasharray="5 2.5"/>
<line x1="88.4" y1="127" x2="91.2" y2="234" stroke="#333" stroke-width="0.88" stroke-dasharray="7 2"/>
<line x1="96.6" y1="126" x2="98.8" y2="232" stroke="#444" stroke-width="0.72" stroke-dasharray="5 2.5"/>
<polygon points="581.3,409.5 598.2,416.5 610.4,411.7 610.4,410.1 598.2,414.3 581.3,407.9" fill="#222" stroke="#1c1c1c" stroke-width="0.98" stroke-linejoin="round"/>
<polygon points="583,296 584.8,409.5 595.2,413.5 592,299" fill="#fff" stroke="#1c1c1c" stroke-width="1.08" stroke-linejoin="round"/>
<polygon points="592,299 595.2,413.5 602.4,410.5 601.4,296" fill="#fff" stroke="#1c1c1c" stroke-width="1.08" stroke-linejoin="round"/>
<line x1="584.5" y1="298" x2="586.3" y2="409.5" stroke="#444" stroke-width="0.72" stroke-dasharray="5 2.5"/>
<line x1="590.6" y1="299" x2="593.8" y2="412.5" stroke="#333" stroke-width="0.88" stroke-dasharray="7 2"/>
<line x1="600.2" y1="298" x2="601.2" y2="410.5" stroke="#444" stroke-width="0.72" stroke-dasharray="5 2.5"/>
<polyline points="596,413.1 597.8,398 599.8,397.5 600.7,412.3" fill="none" stroke="#1c1c1c" stroke-width="1.03" stroke-linejoin="round" stroke-linecap="round"/>
<polyline points="598.6,412.4 600,397.6 602,397.1 604.9,411.4" fill="none" stroke="#1c1c1c" stroke-width="1.03" stroke-linejoin="round" stroke-linecap="round"/>
<polyline points="601.2,411.7 602.2,397.2 604.2,396.7 609.1,410.5" fill="none" stroke="#1c1c1c" stroke-width="1.03" stroke-linejoin="round" stroke-linecap="round"/>
<polygon points="42.5,133.6 100,111.5 225,63.9 257.3,51.8 256.5,60.9 225,72.9 102.6,119.3 42.5,143" fill="#fff" stroke="#1c1c1c" stroke-width="1.08" stroke-linejoin="round"/>
<polygon points="33.75,131.5 33.75,141.25 42.5,143 42.5,133.6" fill="#fff" stroke="#1c1c1c" stroke-width="1.08" stroke-linejoin="round"/>
<polygon points="34,131 246,48.3 257.3,51.8 225,63.9 100,111.5 42.5,133.6" fill="#111" stroke="#1c1c1c" stroke-width="0.98" stroke-linejoin="round"/>
<line x1="39.57" y1="131.29" x2="250.75" y2="49.77" stroke="#eee" stroke-width="0.98" />
<line x1="42.5" y1="135.6" x2="257.3" y2="53.4" stroke="#1c1c1c" stroke-width="0.77" />
<line x1="191" y1="66.5" x2="240.5" y2="47.5" stroke="#1c1c1c" stroke-width="1.4" />
<polygon points="545.6,310.2 590,290.7 735,239.3 760,227.7 764.7,232.8 735,244.5 607.2,293.3 545.6,318" fill="#fff" stroke="#1c1c1c" stroke-width="1.08" stroke-linejoin="round"/>
<polygon points="538,308.6 538,317 545.6,318.2 545.6,310.6" fill="#fff" stroke="#1c1c1c" stroke-width="1.08" stroke-linejoin="round"/>
<polygon points="540,304.5 751,224.2 760,227.7 735,239.3 590,290.7 545.6,310.2" fill="#111" stroke="#1c1c1c" stroke-width="0.98" stroke-linejoin="round"/>
<line x1="544.35" y1="306.09" x2="754.78" y2="225.67" stroke="#eee" stroke-width="0.98" />
<line x1="545.6" y1="312.2" x2="760" y2="229.3" stroke="#1c1c1c" stroke-width="0.77" />
<line x1="760" y1="227.7" x2="764.7" y2="230.3" stroke="#1c1c1c" stroke-width="0.98" />
<line x1="764.7" y1="230.3" x2="764.7" y2="232.8" stroke="#1c1c1c" stroke-width="0.98" />
<polyline points="86,117.5 87.6,126 88.4,130.5" fill="none" stroke="#1c1c1c" stroke-width="1.19" stroke-linejoin="round" stroke-linecap="round"/>
<polyline points="90.2,117 90.6,125 89.2,128 87.6,126" fill="none" stroke="#1c1c1c" stroke-width="1.19" stroke-linejoin="round" stroke-linecap="round"/>
<polyline points="90.2,117.5 91.8,126 92.6,130.5" fill="none" stroke="#1c1c1c" stroke-width="1.19" stroke-linejoin="round" stroke-linecap="round"/>
<polyline points="94.4,117 94.8,125 93.4,128 91.8,126" fill="none" stroke="#1c1c1c" stroke-width="1.19" stroke-linejoin="round" stroke-linecap="round"/>
<polyline points="94.4,117.5 96,126 96.8,130.5" fill="none" stroke="#1c1c1c" stroke-width="1.19" stroke-linejoin="round" stroke-linecap="round"/>
<polyline points="98.6,117 99,125 97.6,128 96,126" fill="none" stroke="#1c1c1c" stroke-width="1.19" stroke-linejoin="round" stroke-linecap="round"/>
<polyline points="203,70.5 204.6,79 205.4,83.5" fill="none" stroke="#1c1c1c" stroke-width="1.19" stroke-linejoin="round" stroke-linecap="round"/>
<polyline points="207.2,70 207.6,78 206.2,81 204.6,79" fill="none" stroke="#1c1c1c" stroke-width="1.19" stroke-linejoin="round" stroke-linecap="round"/>
<polyline points="207.2,70.5 208.8,79 209.6,83.5" fill="none" stroke="#1c1c1c" stroke-width="1.19" stroke-linejoin="round" stroke-linecap="round"/>
<polyline points="211.4,70 211.8,78 210.4,81 208.8,79" fill="none" stroke="#1c1c1c" stroke-width="1.19" stroke-linejoin="round" stroke-linecap="round"/>
<polyline points="211.4,70.5 213,79 213.8,83.5" fill="none" stroke="#1c1c1c" stroke-width="1.19" stroke-linejoin="round" stroke-linecap="round"/>
<polyline points="215.6,70 216,78 214.6,81 213,79" fill="none" stroke="#1c1c1c" stroke-width="1.19" stroke-linejoin="round" stroke-linecap="round"/>
<polyline points="589,290.5 590.6,299 591.4,303.5" fill="none" stroke="#1c1c1c" stroke-width="1.19" stroke-linejoin="round" stroke-linecap="round"/>
<polyline points="593.2,290 593.6,298 592.2,301 590.6,299" fill="none" stroke="#1c1c1c" stroke-width="1.19" stroke-linejoin="round" stroke-linecap="round"/>
<polyline points="593.2,290.5 594.8,299 595.6,303.5" fill="none" stroke="#1c1c1c" stroke-width="1.19" stroke-linejoin="round" stroke-linecap="round"/>
<polyline points="597.4,290 597.8,298 596.4,301 594.8,299" fill="none" stroke="#1c1c1c" stroke-width="1.19" stroke-linejoin="round" stroke-linecap="round"/>
<polyline points="597.4,290.5 599,299 599.8,303.5" fill="none" stroke="#1c1c1c" stroke-width="1.19" stroke-linejoin="round" stroke-linecap="round"/>
<polyline points="601.6,290 602,298 600.6,301 599,299" fill="none" stroke="#1c1c1c" stroke-width="1.19" stroke-linejoin="round" stroke-linecap="round"/>
<polyline points="706,246 707.6,254.5 708.4,259" fill="none" stroke="#1c1c1c" stroke-width="1.19" stroke-linejoin="round" stroke-linecap="round"/>
<polyline points="710.2,245.5 710.6,253.5 709.2,256.5 707.6,254.5" fill="none" stroke="#1c1c1c" stroke-width="1.19" stroke-linejoin="round" stroke-linecap="round"/>
<polyline points="710.2,246 711.8,254.5 712.6,259" fill="none" stroke="#1c1c1c" stroke-width="1.19" stroke-linejoin="round" stroke-linecap="round"/>
<polyline points="714.4,245.5 714.8,253.5 713.4,256.5 711.8,254.5" fill="none" stroke="#1c1c1c" stroke-width="1.19" stroke-linejoin="round" stroke-linecap="round"/>
<polyline points="714.4,246 716,254.5 716.8,259" fill="none" stroke="#1c1c1c" stroke-width="1.19" stroke-linejoin="round" stroke-linecap="round"/>
<polyline points="718.6,245.5 719,253.5 717.6,256.5 716,254.5" fill="none" stroke="#1c1c1c" stroke-width="1.19" stroke-linejoin="round" stroke-linecap="round"/>
<polygon points="145.5,75.3 155,71 209,85.3 600,218.4 634,231.97 676,252.5 660,252.5 634,239 590,224.75 200,90.01 160,79" fill="#fff" stroke="#1c1c1c" stroke-width="1.08" stroke-linejoin="round"/>
<polygon points="145.5,75.3 146.3,83.5 156.7,86.74 555,226.23 600,241.3 646,255.4 660,252.5 634,239 590,224.75 200,90.01 160,79" fill="#fff" stroke="#1c1c1c" stroke-width="1.08" stroke-linejoin="round"/>
<line x1="209" y1="86.3" x2="622" y2="228.09" stroke="#1c1c1c" stroke-width="2.35" />
<line x1="215" y1="87.14" x2="620" y2="223.9" stroke="#1c1c1c" stroke-width="0.88" />
<line x1="202.3" y1="88.2" x2="618" y2="231.82" stroke="#1c1c1c" stroke-width="1.82" />
<line x1="200" y1="89.11" x2="596" y2="225.92" stroke="#1c1c1c" stroke-width="0.77" />
<polyline points="361,135.6 392,146.2" fill="none" stroke="#1c1c1c" stroke-width="1.61" stroke-linejoin="round" stroke-linecap="round"/>
<polygon points="598,216.6 601,215.2 611,217.2 619.5,222.5 622.3,227.6 618,228" fill="#fff" stroke="#1c1c1c" stroke-width="0.88" stroke-linejoin="round"/>
<line x1="599" y1="217.8" x2="619" y2="225.6" stroke="#1c1c1c" stroke-width="1.82" />
<line x1="632" y1="237.6" x2="642.5" y2="233" stroke="#1c1c1c" stroke-width="0.88" />
<polygon points="138,80 146,77 151,79 151,89 143,92 138,90" fill="#fff" stroke="#1c1c1c" stroke-width="1.08" stroke-linejoin="round"/>
<polygon points="138,80 146,77 151,79 143,82" fill="#333" stroke="#1c1c1c" stroke-width="0.88" stroke-linejoin="round"/>
<circle cx="150" cy="87" r="4.2" fill="#fff" stroke="#1c1c1c" stroke-width="1.08"/>
<circle cx="153.5" cy="85.5" r="4.2" fill="#fff" stroke="#1c1c1c" stroke-width="1.08"/>
<polygon points="122,92 129,88.5 138,88.5 138,93 128,98.5 122,96.5" fill="#fff" stroke="#1c1c1c" stroke-width="0.98" stroke-linejoin="round"/>
<circle cx="125.5" cy="94" r="3.6" fill="#fff" stroke="#1c1c1c" stroke-width="0.98"/>
<circle cx="128" cy="93" r="3.6" fill="#fff" stroke="#1c1c1c" stroke-width="0.98"/>
<polygon points="637,256 646,252.5 652,254.5 652,264 644,268 637,265" fill="#fff" stroke="#1c1c1c" stroke-width="1.08" stroke-linejoin="round"/>
<circle cx="650.6" cy="258.8" r="5" fill="#fff" stroke="#1c1c1c" stroke-width="1.08"/>
<circle cx="655" cy="257.2" r="5" fill="#fff" stroke="#1c1c1c" stroke-width="1.08"/>
<circle cx="655" cy="257.2" r="2" fill="#fff" stroke="#1c1c1c" stroke-width="0.88"/>
<polygon points="641,272 668,261.5 672,263 672,266.5 646,277.5 641,276" fill="#fff" stroke="#1c1c1c" stroke-width="0.98" stroke-linejoin="round"/>
<line x1="645" y1="273.5" x2="668" y2="264.5" stroke="#1c1c1c" stroke-width="0.88" />
<polygon points="265.3,72.4 266.4,70.6 270.2,70.6 272,72.6 272.2,162.5 265.7,161.5" fill="#fff" stroke="#1c1c1c" stroke-width="0.98" stroke-linejoin="round"/>
<line x1="265.5" y1="74" x2="265.8" y2="161.5" stroke="#1c1c1c" stroke-width="1.72" />
<line x1="268.8" y1="72.5" x2="269.1" y2="162" stroke="#1c1c1c" stroke-width="1.19" />
<line x1="270.2" y1="72.5" x2="270.5" y2="162" stroke="#666" stroke-width="0.67" />
<polygon points="272,107 280,103.5 294,110 281,115" fill="#fff" stroke="#1c1c1c" stroke-width="0.98" stroke-linejoin="round"/>
<polygon points="250.8,114.2 259.8,110.2 281.8,116.4 273.3,121" fill="#fff" stroke="#1c1c1c" stroke-width="1.08" stroke-linejoin="round"/>
<polygon points="250.8,114.2 273.3,121 273.3,140 250.8,131.6" fill="#fff" stroke="#1c1c1c" stroke-width="1.08" stroke-linejoin="round"/>
<polygon points="273.3,121 281.8,116.4 281.8,136 273.3,140" fill="#fff" stroke="#1c1c1c" stroke-width="1.08" stroke-linejoin="round"/>
<polygon points="265.3,72.4 266.4,70.6 270.2,70.6 272,72.6 272.2,117 265.7,116" fill="#fff" stroke="#1c1c1c" stroke-width="0.98" stroke-linejoin="round"/>
<line x1="265.5" y1="74" x2="265.8" y2="116" stroke="#1c1c1c" stroke-width="1.72" />
<line x1="268.8" y1="72.5" x2="269.1" y2="116.5" stroke="#1c1c1c" stroke-width="1.19" />
<line x1="270.2" y1="72.5" x2="270.5" y2="116.5" stroke="#666" stroke-width="0.67" />
<polygon points="543.5,168.9 544.6,167.1 548.4,167.1 550.2,169.1 550.4,260 543.9,259" fill="#fff" stroke="#1c1c1c" stroke-width="0.98" stroke-linejoin="round"/>
<line x1="543.7" y1="170.5" x2="544" y2="259" stroke="#1c1c1c" stroke-width="1.72" />
<line x1="547" y1="169" x2="547.3" y2="259.5" stroke="#1c1c1c" stroke-width="1.19" />
<line x1="548.4" y1="169" x2="548.7" y2="259.5" stroke="#666" stroke-width="0.67" />
<polygon points="551.2,205.1 559.2,201.6 573.2,208.1 560.2,213.1" fill="#fff" stroke="#1c1c1c" stroke-width="0.98" stroke-linejoin="round"/>
<polygon points="530,212.3 539,208.3 561,214.5 552.5,219.1" fill="#fff" stroke="#1c1c1c" stroke-width="1.08" stroke-linejoin="round"/>
<polygon points="530,212.3 552.5,219.1 552.5,238.1 530,229.7" fill="#fff" stroke="#1c1c1c" stroke-width="1.08" stroke-linejoin="round"/>
<polygon points="552.5,219.1 561,214.5 561,234.1 552.5,238.1" fill="#fff" stroke="#1c1c1c" stroke-width="1.08" stroke-linejoin="round"/>
<polygon points="543.5,168.9 544.6,167.1 548.4,167.1 550.2,169.1 550.4,215 543.9,214" fill="#fff" stroke="#1c1c1c" stroke-width="0.98" stroke-linejoin="round"/>
<line x1="543.7" y1="170.5" x2="544" y2="214" stroke="#1c1c1c" stroke-width="1.72" />
<line x1="547" y1="169" x2="547.3" y2="214.5" stroke="#1c1c1c" stroke-width="1.19" />
<line x1="548.4" y1="169" x2="548.7" y2="214.5" stroke="#666" stroke-width="0.67" />
<circle cx="378" cy="225" r="21" fill="none" stroke="#1c1c1c" stroke-width="0.88"/>
<circle cx="257" cy="271" r="17" fill="none" stroke="#1c1c1c" stroke-width="0.88"/>
<line x1="166" y1="20" x2="172.5" y2="79" stroke="#1c1c1c" stroke-width="0.88" />
<line x1="309" y1="43" x2="274" y2="117" stroke="#1c1c1c" stroke-width="0.88" />
<line x1="358" y1="77" x2="298" y2="172" stroke="#1c1c1c" stroke-width="0.88" />
<line x1="446" y1="142.5" x2="394" y2="213" stroke="#1c1c1c" stroke-width="0.88" />
<line x1="186.2" y1="323.5" x2="251" y2="286" stroke="#1c1c1c" stroke-width="0.88" />
<line x1="747.5" y1="274" x2="666" y2="307.5" stroke="#1c1c1c" stroke-width="0.88" />
<line x1="612.7" y1="443.6" x2="621.4" y2="367" stroke="#1c1c1c" stroke-width="0.88" />
<line x1="666.6" y1="435.3" x2="670" y2="347" stroke="#1c1c1c" stroke-width="0.88" />
<polyline points="162.8,9.08 165.77,6 165.77,20" fill="none" stroke="#555" stroke-width="0.93" stroke-linejoin="round" stroke-linecap="round"/>
<polyline points="163.07,20 168.2,20" fill="none" stroke="#555" stroke-width="0.93" stroke-linejoin="round" stroke-linecap="round"/>
<polyline points="304.64,30.59 305.43,28.02 307.69,26.59 311.08,26.3 313.91,27.44 315.26,29.88 314.47,32.31 311.08,34.16 306.56,36.02 304.64,38.03 304.3,40.6 315.6,40.6" fill="none" stroke="#454545" stroke-width="0.93" stroke-linejoin="round" stroke-linecap="round"/>
<polyline points="353.41,61.3 355.3,59.81 358.45,59.4 361.6,60.08 363.18,62.12 362.12,64.84 358.45,65.93 362.12,67.02 363.7,69.6 362.12,72.05 358.45,73 355.3,72.59 353.2,70.96" fill="none" stroke="#454545" stroke-width="0.93" stroke-linejoin="round" stroke-linecap="round"/>
<polyline points="442.2,140.5 442.2,136.08 446.95,126.7 451.7,136.08 451.7,140.5" fill="none" stroke="#454545" stroke-width="0.93" stroke-linejoin="round" stroke-linecap="round"/>
<polyline points="442.2,135.81 451.7,135.81" fill="none" stroke="#454545" stroke-width="0.93" stroke-linejoin="round" stroke-linecap="round"/>
<polyline points="182.28,326.1 182.28,340.3" fill="none" stroke="#454545" stroke-width="0.93" stroke-linejoin="round" stroke-linecap="round"/>
<polyline points="179.9,326.1 186.38,326.1 189.08,327.24 189.84,329.51 189.08,331.78 186.38,332.92 182.28,332.92" fill="none" stroke="#454545" stroke-width="0.93" stroke-linejoin="round" stroke-linecap="round"/>
<polyline points="186.38,332.92 189.62,334.34 190.7,336.75 189.62,339.16 186.38,340.3 179.9,340.3" fill="none" stroke="#454545" stroke-width="0.93" stroke-linejoin="round" stroke-linecap="round"/>
<polyline points="755.48,281.5 755.48,267 749,277.15 758,277.15" fill="none" stroke="#454545" stroke-width="0.93" stroke-linejoin="round" stroke-linecap="round"/>
<polyline points="609.3,448.64 612.65,445.6 612.65,459.4" fill="none" stroke="#454545" stroke-width="0.93" stroke-linejoin="round" stroke-linecap="round"/>
<polyline points="609.6,459.4 615.4,459.4" fill="none" stroke="#454545" stroke-width="0.93" stroke-linejoin="round" stroke-linecap="round"/>
<polyline points="625.62,459.4 625.62,445.6 618.2,455.26 628.5,455.26" fill="none" stroke="#454545" stroke-width="0.93" stroke-linejoin="round" stroke-linecap="round"/>
<polyline points="674.78,437.1 665.82,437.1 665.51,443.72 668.09,442.69 671.18,442.69 674.27,444.45 675.3,447.39 674.27,450.33 671.18,451.8 668.09,451.8 665,450.33" fill="none" stroke="#454545" stroke-width="0.93" stroke-linejoin="round" stroke-linecap="round"/>
</g>
</svg>
</body></html>
